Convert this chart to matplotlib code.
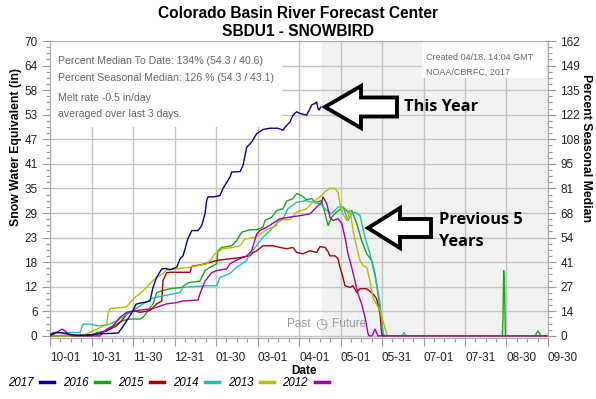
import matplotlib
matplotlib.use("Agg")
import matplotlib.pyplot as plt
from matplotlib.lines import Line2D
from matplotlib.patches import Polygon, Rectangle
from matplotlib.ticker import FixedLocator

plt.rcParams['font.family'] = ['Liberation Sans', 'DejaVu Sans']

# ---------------- data (days since Oct 1, SWE in inches) ----------------
years = ["2017", "2016", "2015", "2014", "2013", "2012"]
colors = ["#000099", "#11aa11", "#aa0000", "#22bbbb", "#bbbb00", "#aa00aa"]

days_2017 = [0, 4, 9, 14, 20, 28, 36, 45, 50, 53, 56, 60, 63, 66, 70, 73.3, 75.5, 78.2, 81.9, 85, 88,
             92.9, 95.3, 97.5, 101, 103.9, 108.5, 111.2, 113.6, 114.8, 115.8, 120, 124.6, 126.8,
             131.9, 133.2, 139.3, 141.5, 144.2, 147.8, 151.5, 156.1, 161.2, 167.1, 170.8, 172.2,
             175.9, 178.1, 180.8, 183.2, 188.1, 190.6, 191.8, 194.2, 195.5, 196.4, 197.2, 198.4]
swe_2017 = [0.3, 0.8, 0.7, 0.4, 0.1, 0.2, 0.5, 0.6, 0.7, 2.0, 3.5, 5.5, 7.5, 7.8, 8.0, 8.3, 11.5, 13.9,
            15.9, 16.0, 15.7, 16.3, 18.3, 19.0, 23.0, 25.0, 25.0, 26.2, 29.0, 32.1, 33.0, 33.0, 33.3,
            35.0, 37.7, 38.9, 39.0, 40.5, 44.8, 46.0, 48.0, 49.0, 49.3, 49.3, 48.8, 49.5, 50.8, 52.4,
            53.2, 52.8, 52.4, 54.0, 54.8, 55.2, 55.5, 54.0, 53.6, 54.3]

days_2016 = [0, 30, 34.2, 41.6, 48.9, 53.5, 58.6, 66, 68.2, 75.5, 78.2, 81.9, 88, 96.5, 100.2, 102.6,
             109.9, 113.6, 117.3, 122.2, 123.1, 125.8, 133.2, 136.8, 140.5, 146.6, 151.5, 156.1,
             157.6, 162.5, 166.2, 170.8, 173.5, 178.1, 180.8, 184.5, 188.1, 191.8, 194.2, 199.1,
             201.6, 203.8, 206.5, 210.1, 214.7, 218.4, 221.1, 224.8, 228.4, 232.1, 235.8, 238.2,
             240.4, 241.9, 243.1, 244.1, 245.2, 331.5, 332.0, 332.5, 333.2, 333.8, 355.5, 357.7,
             359.9, 364]
swe_2016 = [0, 0, 0.8, 1.2, 2.8, 3.6, 4.0, 4.0, 4.4, 7.6, 10.3, 10.7, 11.2, 11.5, 12.4, 12.7, 13.0,
            15.5, 16.3, 17.1, 20.2, 21.0, 21.4, 22.6, 24.6, 25.2, 25.2, 25.8, 27.4, 28.2, 29.8, 30.2,
            32.0, 32.6, 33.8, 33.3, 32.3, 32.6, 31.7, 32.1, 29.0, 26.2, 28.2, 29.4, 30.6, 29.4, 29.8,
            26.7, 22.6, 19.5, 17.9, 14.8, 10.0, 6.7, 3.6, 0.5, 0, 0, 4.0, 15.5, 11.0, 0, 0, 1.2, 0, 0]

days_2015 = [0, 33, 41.6, 48.9, 53.5, 56.2, 60.8, 66, 73.3, 78.2, 81.9, 82.8, 85.5, 88, 102.6, 103.9,
             112.1, 122.2, 131.9, 139.3, 146.6, 148.8, 151.5, 156.1, 163.4, 168.6, 173.5, 178.1,
             180.8, 185.4, 190.6, 195.5, 197.9, 201.6, 203.8, 205.2, 208.9, 211.1, 212.5, 214.7,
             216.2, 219.9, 222.1, 224.8, 227.2, 232.1, 236.7, 239.4, 241.9, 243.1, 244.1, 364]
swe_2015 = [0, 0.3, 1.2, 2.4, 4.0, 5.2, 6.0, 5.6, 6.0, 7.6, 8.3, 13.1, 15.0, 15.1, 15.1, 16.5, 17.0,
            17.9, 18.3, 18.6, 19.0, 19.8, 20.2, 21.4, 21.4, 21.0, 20.7, 21.0, 19.8, 19.5, 20.2, 19.8,
            21.2, 21.0, 20.0, 19.0, 19.0, 18.3, 16.3, 13.9, 11.9, 11.5, 11.9, 10.3, 11.2, 11.2, 10.0,
            8.8, 5.2, 0.5, 0, 0]

days_2014 = [0, 2.2, 22, 24.2, 29.3, 34.2, 41.6, 44, 48.9, 60.8, 68.2, 75.5, 82.8, 95.3, 97.5, 114.8,
             122.2, 124.6, 131.9, 136.8, 144.2, 146.6, 151.5, 156.1, 161.2, 166.2, 170.8, 174.4,
             180.8, 186.9, 192.8, 197.9, 202.8, 206.5, 211.1, 214.7, 218.4, 221.1, 223.5, 227.2,
             230.9, 234.5, 236.7, 239.4, 241.9, 243.1, 244.1, 245.5, 258, 259.5, 261, 364]
swe_2014 = [0.3, 0.8, 0.8, 2.8, 2.8, 2.4, 2.6, 2.8, 3.6, 6.0, 7.6, 9.0, 9.5, 10.3, 11.5, 11.9, 11.9,
            13.9, 14.8, 16.3, 17.9, 19.5, 21.4, 23.4, 25.0, 26.7, 27.8, 30.2, 31.7, 32.1, 31.7, 31.4,
            29.8, 29.0, 30.6, 30.6, 27.4, 29.0, 29.4, 28.6, 23.4, 19.5, 16.3, 12.4, 7.6, 3.6, 0.5, 0,
            0, 0.8, 0, 0]

days_2013 = [0, 22, 29.3, 41.6, 42.5, 44, 51.3, 56.2, 58.6, 62.3, 68.2, 77, 82.8, 85.5, 92.9, 102.6,
             114.8, 118.5, 120.9, 126.8, 134.1, 139.3, 142.9, 150.2, 153.9, 158.8, 166.2, 167.1,
             175.9, 180.8, 188.1, 192.8, 197.9, 201.6, 205.2, 208.9, 211.1, 212.5, 214.7, 217.5,
             219.9, 222.1, 224.8, 227.2, 229.4, 232.1, 234.5, 236.7, 241.9, 244.1, 246.8, 247.7, 364]
swe_2013 = [0, 0, 0.8, 2.8, 5.2, 6.5, 6.7, 6.9, 7.9, 9.1, 10.7, 13.6, 14.8, 15.7, 15.9, 16.3, 17.1,
            18.3, 19.5, 20.7, 21.0, 21.4, 23.0, 23.4, 24.2, 25.2, 26.2, 27.6, 27.6, 29.4, 30.2, 31.8,
            33.0, 34.2, 35.0, 35.0, 34.1, 31.4, 29.0, 27.4, 29.8, 25.0, 21.0, 17.9, 16.7, 16.3, 13.1,
            9.1, 6.0, 3.5, 0.5, 0, 0]

days_2012 = [0, 4.9, 8.6, 11, 13.2, 16, 36.6, 41.6, 46.2, 51.3, 56.2, 63.5, 75.5, 85.5, 92.9, 97.5,
             108.5, 109.9, 113.6, 118.5, 122.2, 129.5, 131.9, 136.8, 144.2, 147.8, 151.5, 153.9,
             158.8, 168.6, 175.9, 184.5, 190.6, 195.5, 199.1, 200.1, 202.8, 205.2, 207.4, 211.1,
             213.8, 216.2, 218.4, 221.1, 223.5, 225.7, 228.4, 230.9, 233.1, 233.8, 236, 238.2,
             240.4, 364]
swe_2012 = [0, 0.8, 1.6, 1.2, 0.5, 0, 0, 1.6, 2.4, 4.4, 5.6, 6.0, 6.5, 7.6, 7.9, 8.3, 8.5, 10.0, 13.0,
            15.0, 15.5, 15.9, 17.1, 18.0, 19.0, 20.2, 24.2, 25.0, 25.8, 27.8, 28.2, 28.6, 29.0, 30.6,
            31.7, 33.0, 31.4, 28.2, 27.4, 27.8, 26.7, 23.4, 19.5, 16.3, 13.1, 10.0, 7.6, 4.4, 0.5, 0,
            0, 1.6, 0, 0]

series_days = [days_2017, days_2016, days_2015, days_2014, days_2013, days_2012]
series_swe = [swe_2017, swe_2016, swe_2015, swe_2014, swe_2013, swe_2012]

x_tick_labels = ["10-01", "10-31", "11-30", "12-31", "01-30", "03-01", "04-01",
                 "05-01", "05-31", "07-01", "07-31", "08-30", "09-30"]
swe_tick_labels = ["0", "6", "12", "18", "23", "29", "35", "41", "47", "53", "58", "64", "70"]
pct_tick_labels = ["0", "14", "27", "41", "54", "68", "81", "95", "108", "122", "135", "149", "162"]

today_day = 199          # 04-18
season_days = 365
swe_max = 70

# ---------------- figure ----------------
W, H = 596, 399
fig = plt.figure(figsize=(W / 100, H / 100), dpi=100)
def fx(px): return px / W
def fy(py): return 1 - py / H

ax = fig.add_axes([fx(50), fy(338), 498 / W, 297 / H])
ax.set_xlim(0, season_days)
ax.set_ylim(-0.5, swe_max)

# future shading
ax.axvspan(today_day, season_days, color="#f2f2f2", zorder=0, lw=0)

# ticks & grid
xt = [season_days * k / 12 for k in range(13)]
ax.set_xticks(xt)
ax.set_xticklabels(x_tick_labels)
for lab in ax.get_xticklabels():
    lab.set_ha("left")
ax.xaxis.set_minor_locator(FixedLocator([season_days * k / 48 for k in range(49)]))
yt = [swe_max * k / 12 for k in range(13)]
ax.set_yticks(yt)
ax.set_yticklabels(swe_tick_labels)
ax.yaxis.set_minor_locator(FixedLocator([swe_max * k / 48 for k in range(49)]))
ax.grid(True, which="major", color="#c4c4c4", lw=1.0, zorder=0.5)
ax.set_axisbelow(True)

tick_kw = dict(colors="#999999", labelcolor="#222222", labelsize=8.5)
ax.tick_params(axis="both", which="major", length=6, width=0.8, **tick_kw)
ax.tick_params(axis="both", which="minor", length=3, width=0.8, colors="#999999")
ax.tick_params(axis="x", pad=4)
ax.tick_params(axis="y", pad=3)
for s in ax.spines.values():
    s.set_color("#aaaaaa")
    s.set_linewidth(0.8)

# white boxes
ax.add_patch(Rectangle((0, (338 - 127) / 297), (282 - 50) / 498, 1 - (338 - 127) / 297,
                       transform=ax.transAxes, facecolor="white", edgecolor="none", zorder=0.8))
ax.add_patch(Rectangle(((422 - 50) / 498, (338 - 78) / 297), (546 - 422) / 498, (78 - 42) / 297,
                       transform=ax.transAxes, facecolor="white", edgecolor="none", zorder=0.8))

# lines: previous years first, then current
order = [1, 2, 3, 4, 5, 0]
for i in order:
    ax.plot(series_days[i], series_swe[i], color=colors[i], lw=1.0, zorder=3 if i else 4)

# right axis
ax2 = ax.twinx()
ax2.set_ylim(ax.get_ylim())
ax2.set_yticks(yt)
ax2.set_yticklabels(pct_tick_labels)
ax2.yaxis.set_minor_locator(FixedLocator([swe_max * k / 48 for k in range(49)]))
ax2.tick_params(axis="y", which="major", length=6, width=0.8, pad=3, **tick_kw)
ax2.tick_params(axis="y", which="minor", length=3, width=0.8, colors="#999999")
for s in ax2.spines.values():
    s.set_visible(False)

# labels
fig.text(fx(16), fy(147), "Snow Water Equivalent (in)", rotation=90, ha="center", va="center",
         fontsize=8.8, fontweight="bold")
fig.text(fx(586), fy(148), "Percent Seasonal Median", rotation=-90, ha="center", va="center",
         fontsize=8.8, fontweight="bold")
fig.text(fx(304), fy(371), "Date", ha="center", va="center", fontsize=8.5, fontweight="bold")
fig.text(fx(298), fy(14), "Colorado Basin River Forecast Center", ha="center", va="center",
         fontsize=11.2, fontweight="bold")
fig.text(fx(298), fy(32), "SBDU1 - SNOWBIRD", ha="center", va="center",
         fontsize=11.2, fontweight="bold")

info = "#666666"
fig.text(fx(58), fy(61), "Percent Median To Date: 134% (54.3 / 40.6)", ha="left", va="center",
         fontsize=7.6, color=info)
fig.text(fx(58), fy(78), "Percent Seasonal Median: 126 % (54.3 / 43.1)", ha="left", va="center",
         fontsize=7.6, color=info)
fig.text(fx(58), fy(98), "Melt rate -0.5 in/day", ha="left", va="center", fontsize=7.6, color=info)
fig.text(fx(58), fy(114), "averaged over last 3 days.", ha="left", va="center", fontsize=7.6, color=info)
fig.text(fx(426), fy(58), "Created 04/18. 14:04 GMT", ha="left", va="center", fontsize=6.5, color=info)
fig.text(fx(426), fy(72), "NOAA/CBRFC, 2017", ha="left", va="center", fontsize=6.5, color=info)

fig.text(fx(311), fy(324), "Past", ha="right", va="center", fontsize=8.5, color="#999999")
fig.text(fx(321), fy(324), "\u25F7", ha="center", va="center", fontsize=10, color="#999999",
         family="DejaVu Sans")
fig.text(fx(332), fy(324), "Future", ha="left", va="center", fontsize=8.5, color="#999999")

# block arrows (annotations)
def block_arrow(tip_x, cy, head_x, head_h, shaft_h, end_x):
    pts = [(tip_x, cy), (head_x, cy - head_h), (head_x, cy - shaft_h), (end_x, cy - shaft_h),
           (end_x, cy + shaft_h), (head_x, cy + shaft_h), (head_x, cy + head_h)]
    poly = Polygon([(fx(px), fy(py)) for px, py in pts], closed=True, transform=fig.transFigure,
                   facecolor="white", edgecolor="black", lw=2.8, joinstyle="miter", zorder=10)
    fig.patches.append(poly)

block_arrow(325, 107, 361, 21, 9.5, 397)
block_arrow(368, 228, 400, 20, 9, 431)
fig.text(fx(404), fy(107), "This Year", ha="left", va="center", fontsize=11.8, fontweight="bold",
         family="Open Sans")
fig.text(fx(439), fy(220), "Previous 5", ha="left", va="center", fontsize=11.8, fontweight="bold",
         family="Open Sans")
fig.text(fx(439), fy(242), "Years", ha="left", va="center", fontsize=11.8, fontweight="bold",
         family="Open Sans")

# legend (label before swatch)
handles = [Line2D([0], [0], color=c, lw=2.5) for c in colors]
fig.legend(handles, years, loc="center left", bbox_to_anchor=(fx(8), fy(383)), ncol=6,
           markerfirst=False, frameon=False, handlelength=1.2, handletextpad=0.6,
           columnspacing=0.75, borderpad=0, borderaxespad=0,
           prop=dict(family="Liberation Sans", style="italic", size=8.3))

fig.savefig("out.png", dpi=100)
